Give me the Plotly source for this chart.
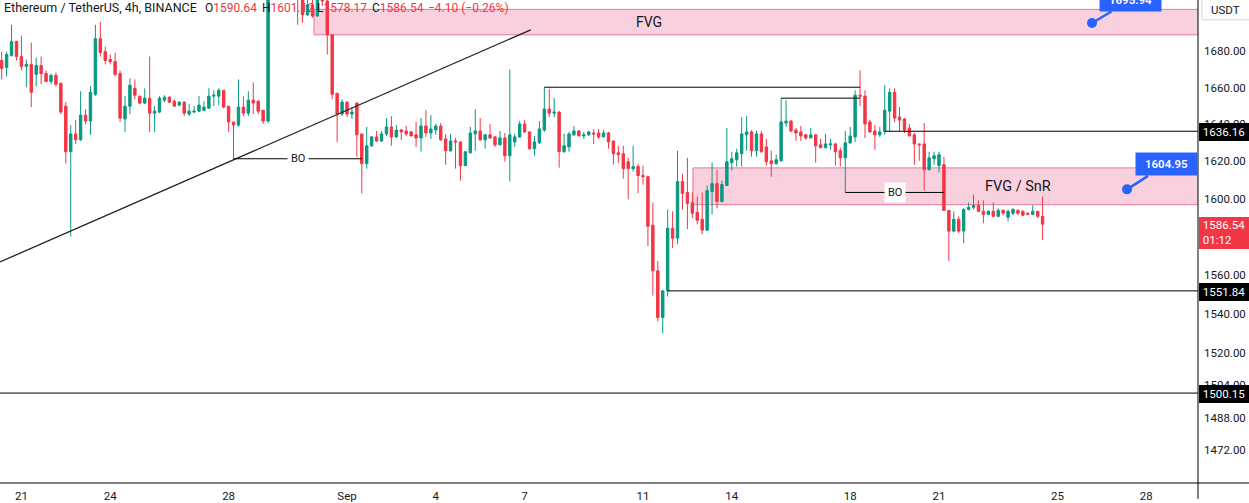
import numpy as np
import pandas as pd
import plotly.graph_objects as go

# ---------------- data (ETH/USDT 4h) ----------------
times = pd.date_range("2023-08-20 08:00", periods=212, freq="4h")

opens = [
    1675.0, 1671.1, 1677.7, 1685.5, 1677.2, 1671.7, 1672.8, 1667.3, 1672.2, 1667.8,
    1663.4, 1666.7, 1662.3, 1649.8, 1625.1, 1634.7, 1631.5, 1644.9, 1641.7, 1656.3,
    1687.1, 1679.9, 1675.5, 1674.4, 1667.8, 1642.8, 1649.8, 1659.6, 1655.3, 1651.5,
    1654.2, 1646.0, 1646.6, 1653.1, 1654.7, 1652.5, 1650.4, 1652.0, 1645.5, 1646.6,
    1647.1, 1647.6, 1648.7, 1655.3, 1655.3, 1658.5, 1649.8, 1641.2, 1639.5, 1649.3,
    1646.0, 1653.1, 1652.5, 1647.6, 1641.7, 1718.0, 1735.0, 1725.0, 1720.0, 1716.0,
    1714.0, 1710.5, 1700.5, 1706.1, 1699.9, 1711.0, 1708.3, 1689.3, 1656.9, 1645.5,
    1652.0, 1645.5, 1651.5, 1634.7, 1618.7, 1628.3, 1633.1, 1630.9, 1634.7, 1638.5,
    1633.1, 1636.8, 1636.3, 1635.8, 1634.2, 1632.5, 1639.0, 1635.2, 1636.8, 1639.0,
    1632.0, 1625.6, 1630.9, 1630.4, 1617.6, 1624.5, 1634.7, 1636.3, 1631.5, 1634.2,
    1633.1, 1628.8, 1632.5, 1622.9, 1630.4, 1633.1, 1640.1, 1635.8, 1626.7, 1629.9,
    1636.8, 1648.2, 1646.0, 1646.6, 1625.1, 1627.7, 1634.2, 1636.3, 1633.6, 1634.2,
    1635.2, 1635.2, 1633.1, 1635.2, 1630.9, 1624.5, 1624.0, 1619.7, 1616.0, 1617.1,
    1612.3, 1611.7, 1586.0, 1562.2, 1538.2, 1551.84, 1584.4, 1579.2, 1609.1, 1603.3,
    1598.0, 1592.8, 1589.1, 1583.4, 1603.8, 1608.0, 1598.5, 1607.0, 1619.2, 1620.8,
    1624.0, 1634.2, 1635.8, 1625.6, 1634.7, 1627.7, 1620.2, 1618.7, 1620.2, 1640.6,
    1641.7, 1636.8, 1635.8, 1634.2, 1632.5, 1634.2, 1628.8, 1627.2, 1628.8, 1629.3,
    1625.6, 1621.8, 1629.9, 1633.1, 1655.8, 1655.3, 1641.2, 1636.3, 1634.2, 1636.16,
    1647.1, 1657.4, 1643.9, 1642.8, 1637.9, 1634.2, 1629.3, 1629.3, 1615.5, 1621.3,
    1617.6, 1618.1, 1593.8, 1582.9, 1589.1, 1582.9, 1594.3, 1595.4, 1596.4, 1593.3,
    1591.7, 1593.3, 1590.7, 1593.8, 1590.2, 1592.3, 1593.8, 1593.3, 1592.3, 1591.7,
    1593.3, 1590.64,
]
highs = [
    1679.9, 1679.9, 1694.9, 1686.0, 1688.8, 1675.5, 1684.9, 1676.6, 1677.2, 1669.5,
    1667.8, 1668.4, 1662.9, 1652.0, 1639.5, 1642.2, 1658.0, 1648.2, 1660.7, 1694.9,
    1696.6, 1682.7, 1678.3, 1679.4, 1669.5, 1655.3, 1665.1, 1664.5, 1655.3, 1659.6,
    1677.2, 1649.8, 1655.3, 1655.8, 1655.3, 1653.6, 1652.5, 1652.5, 1650.9, 1649.8,
    1655.3, 1652.5, 1659.6, 1658.5, 1659.6, 1658.5, 1649.8, 1641.2, 1664.5, 1655.3,
    1658.0, 1662.9, 1653.1, 1647.6, 1728.0, 1745.0, 1742.0, 1730.0, 1728.0, 1722.0,
    1720.0, 1713.0, 1712.0, 1712.0, 1714.0, 1716.0, 1712.0, 1689.3, 1656.9, 1653.6,
    1652.5, 1649.3, 1652.0, 1634.7, 1638.5, 1633.6, 1636.3, 1636.3, 1643.3, 1644.4,
    1639.5, 1637.4, 1639.0, 1636.3, 1641.2, 1643.3, 1647.6, 1644.9, 1640.1, 1640.6,
    1634.7, 1634.7, 1632.5, 1630.4, 1625.1, 1638.5, 1648.2, 1643.3, 1634.7, 1640.1,
    1633.6, 1636.3, 1635.2, 1670.0, 1634.7, 1641.7, 1642.2, 1635.8, 1633.6, 1641.7,
    1660.2, 1659.1, 1654.2, 1647.1, 1634.7, 1635.8, 1639.0, 1636.8, 1635.8, 1636.3,
    1637.4, 1637.4, 1636.8, 1635.8, 1630.9, 1628.3, 1628.3, 1621.8, 1628.3, 1618.7,
    1617.6, 1612.3, 1598.0, 1567.3, 1551.84, 1594.3, 1593.3, 1625.6, 1613.3, 1621.8,
    1603.3, 1601.2, 1603.3, 1607.0, 1619.2, 1615.5, 1609.6, 1637.9, 1625.1, 1626.7,
    1643.9, 1644.4, 1636.8, 1636.3, 1636.3, 1632.0, 1625.6, 1623.5, 1654.2, 1653.1,
    1642.2, 1637.9, 1639.0, 1634.7, 1637.9, 1634.7, 1632.0, 1634.7, 1632.0, 1629.9,
    1627.2, 1636.3, 1638.5, 1658.5, 1669.5, 1658.5, 1642.2, 1639.5, 1638.5, 1661.3,
    1659.6, 1659.6, 1649.3, 1643.3, 1640.1, 1635.2, 1629.3, 1640.6, 1625.1, 1625.1,
    1625.1, 1622.4, 1593.8, 1593.3, 1590.7, 1594.9, 1598.0, 1602.2, 1599.1, 1599.1,
    1593.8, 1598.0, 1594.9, 1594.3, 1594.3, 1594.9, 1594.3, 1593.8, 1592.8, 1596.4,
    1593.3, 1601.12,
]
lows = [
    1664.5, 1666.2, 1677.2, 1675.0, 1669.5, 1660.2, 1649.3, 1660.7, 1661.8, 1662.9,
    1661.8, 1660.7, 1645.5, 1618.7, 1580.2, 1629.3, 1630.9, 1640.1, 1634.2, 1655.3,
    1677.2, 1672.8, 1672.8, 1666.2, 1641.2, 1635.8, 1645.5, 1653.6, 1650.9, 1650.9,
    1635.8, 1635.8, 1646.0, 1652.0, 1651.5, 1649.8, 1649.8, 1644.4, 1644.4, 1646.0,
    1646.6, 1647.1, 1648.2, 1649.8, 1650.4, 1648.7, 1635.8, 1621.3, 1638.5, 1644.4,
    1644.4, 1645.5, 1645.5, 1640.1, 1640.6, 1712.0, 1718.0, 1712.0, 1713.0, 1711.0,
    1694.9, 1696.0, 1699.9, 1698.8, 1699.4, 1705.5, 1678.3, 1653.6, 1630.4, 1644.4,
    1643.9, 1642.8, 1622.4, 1602.8, 1616.0, 1627.7, 1630.4, 1630.4, 1633.6, 1628.3,
    1632.5, 1631.5, 1633.6, 1633.6, 1627.7, 1625.1, 1633.1, 1632.0, 1634.2, 1630.9,
    1618.1, 1625.1, 1616.0, 1609.6, 1617.6, 1624.0, 1625.6, 1630.9, 1626.7, 1632.0,
    1627.7, 1628.3, 1619.7, 1609.1, 1627.7, 1632.5, 1635.2, 1626.1, 1622.9, 1629.3,
    1635.8, 1643.9, 1643.9, 1616.5, 1624.5, 1625.1, 1633.6, 1633.6, 1632.0, 1633.6,
    1629.3, 1632.0, 1633.1, 1626.7, 1618.1, 1619.2, 1610.7, 1599.6, 1614.4, 1602.8,
    1607.5, 1575.1, 1549.4, 1536.2, 1530.1, 1548.9, 1574.0, 1576.1, 1594.3, 1583.9,
    1589.6, 1586.5, 1581.3, 1582.9, 1591.7, 1594.9, 1598.0, 1607.0, 1614.9, 1617.1,
    1617.1, 1625.6, 1622.4, 1622.4, 1624.5, 1617.6, 1611.7, 1618.1, 1619.7, 1638.5,
    1635.8, 1630.9, 1630.9, 1631.5, 1632.5, 1619.2, 1627.2, 1627.2, 1626.1, 1617.6,
    1617.1, 1603.3, 1629.3, 1630.4, 1649.8, 1632.5, 1635.2, 1626.1, 1633.1, 1634.2,
    1635.8, 1641.2, 1636.3, 1635.2, 1633.6, 1618.1, 1620.2, 1604.3, 1614.9, 1618.1,
    1613.9, 1593.8, 1567.3, 1582.3, 1581.8, 1576.6, 1593.8, 1594.3, 1592.8, 1587.0,
    1591.2, 1590.2, 1590.2, 1591.2, 1588.0, 1591.2, 1591.2, 1590.7, 1591.2, 1591.2,
    1589.6, 1578.17,
]
closes = [
    1670.6, 1678.3, 1685.5, 1677.2, 1671.7, 1672.8, 1657.4, 1672.2, 1667.8, 1663.4,
    1666.7, 1661.8, 1646.6, 1625.1, 1634.7, 1631.5, 1644.9, 1641.7, 1657.4, 1687.1,
    1679.4, 1675.0, 1674.4, 1667.3, 1643.3, 1649.8, 1661.3, 1655.8, 1651.5, 1654.2,
    1646.0, 1647.1, 1654.2, 1654.7, 1652.0, 1649.8, 1652.0, 1646.0, 1647.1, 1647.1,
    1650.4, 1649.3, 1655.3, 1655.8, 1658.5, 1649.3, 1641.2, 1639.5, 1649.3, 1646.0,
    1653.1, 1651.5, 1647.1, 1641.7, 1718.0, 1735.0, 1725.0, 1720.0, 1716.0, 1714.0,
    1710.5, 1700.5, 1706.1, 1699.9, 1711.0, 1708.3, 1689.3, 1656.3, 1645.5, 1652.0,
    1645.5, 1646.6, 1634.2, 1618.7, 1628.3, 1633.1, 1630.9, 1634.7, 1638.5, 1633.1,
    1636.8, 1635.8, 1634.7, 1633.6, 1632.5, 1639.0, 1635.2, 1637.4, 1639.0, 1631.5,
    1625.6, 1630.9, 1630.4, 1617.6, 1625.1, 1635.2, 1636.3, 1631.5, 1634.2, 1632.5,
    1628.8, 1632.5, 1622.9, 1634.2, 1633.1, 1640.1, 1635.8, 1626.7, 1630.4, 1637.4,
    1648.2, 1646.0, 1646.6, 1625.1, 1628.3, 1634.7, 1636.3, 1633.6, 1634.2, 1635.8,
    1634.7, 1633.1, 1635.2, 1630.4, 1624.0, 1623.5, 1616.0, 1616.0, 1617.1, 1612.3,
    1611.7, 1585.5, 1562.2, 1538.2, 1551.84, 1584.4, 1579.2, 1609.1, 1602.8, 1597.5,
    1592.3, 1588.6, 1583.4, 1604.3, 1608.0, 1598.5, 1607.5, 1619.7, 1621.3, 1624.5,
    1634.7, 1635.8, 1625.6, 1634.7, 1625.1, 1619.7, 1618.7, 1620.8, 1641.2, 1641.7,
    1636.3, 1635.2, 1633.6, 1632.5, 1634.2, 1628.3, 1627.2, 1629.3, 1629.3, 1625.1,
    1621.8, 1629.9, 1633.6, 1655.8, 1655.3, 1640.1, 1635.8, 1634.2, 1635.8, 1647.6,
    1657.4, 1643.3, 1642.2, 1636.8, 1633.6, 1629.3, 1628.8, 1615.5, 1621.8, 1622.9,
    1623.5, 1593.8, 1582.9, 1589.1, 1582.9, 1594.3, 1595.4, 1596.4, 1593.3, 1591.7,
    1593.3, 1590.7, 1593.8, 1592.3, 1593.3, 1594.3, 1592.3, 1591.2, 1591.7, 1593.3,
    1590.64, 1586.54,
]

# axis ticks (1580 is hidden behind the current-price label in the original, so it is omitted)
y_ticks = [1472, 1488, 1504, 1520, 1540, 1560, 1600, 1620, 1640, 1660, 1680]
x_tick_dates = ["2023-08-21", "2023-08-24", "2023-08-28", "2023-09-01", "2023-09-04", "2023-09-07",
                "2023-09-11", "2023-09-14", "2023-09-18", "2023-09-21", "2023-09-25", "2023-09-28"]
x_tick_text = ["21", "24", "28", "Sep", "4", "7", "11", "14", "18", "21", "25", "28"]

# drawings: horizontal levels (start candle, end candle or None=extend, price)
level_lines = [(110, 174, highs[110]), (158, 174, highs[158]),
               (179, None, 1636.16), (135, None, 1551.84), (None, None, 1500.15)]
bo_lines = [(47, 73, lows[47]), (171, 191, lows[171])]
trend_pts = [("2023-08-20 06:39", 1566.8), ("2023-09-07 05:00", 1692.1)]
fvg_zones = [  # (left time, top, bottom, label, label time, font size)
    ("2023-08-30 21:15", 1703.6, 1689.3, "FVG", "2023-09-11 05:00", 14),
    ("2023-09-12 16:30", 1616.4, 1596.8, "FVG / SnR", "2023-09-23 16:00", 14.5),
]
price_notes = [("2023-09-27 08:26", 1604.95, -25), ("2023-09-26 04:03", 1695.94, -32)]
axis_marks = [1636.16, 1551.84, 1500.15]

x_range = [pd.Timestamp("2023-08-20 06:39"), pd.Timestamp("2023-09-29 18:00")]
y_range = [1456.1, 1708.9]

GREEN, RED, BLUE, INK = "#089981", "#F23645", "#2962FF", "#131722"
FONT = "Roboto"
W, H = 1249, 503
L_M, R_M, T_M, B_M = 0, 51, 0, 16
PW, PH = W - L_M - R_M, H - T_M - B_M
LO, HI = np.log10(y_range[0]), np.log10(y_range[1])


def ypaper(p):
    return (np.log10(p) - LO) / (HI - LO)


fig = go.Figure()
fig.add_trace(go.Candlestick(
    x=times, open=opens, high=highs, low=lows, close=closes,
    increasing=dict(line=dict(color=GREEN, width=1), fillcolor=GREEN),
    decreasing=dict(line=dict(color=RED, width=1), fillcolor=RED),
    whiskerwidth=0, hoverinfo="skip", showlegend=False))

shapes = []
annos = []
ext_right = x_range[1] + pd.Timedelta(days=3)

# FVG zones
for left, top, bot, label, ltime, fs in fvg_zones:
    shapes.append(dict(type="rect", xref="x", yref="y", x0=left, x1=ext_right, y0=bot, y1=top,
                       fillcolor="#f9d1de", line=dict(color="#e07a9d", width=1), layer="below"))
    annos.append(dict(x=ltime, y=(np.log10(top) + np.log10(bot)) / 2, xref="x", yref="y",
                      text=label, showarrow=False, font=dict(size=fs, color=INK, family=FONT)))

# trend line
shapes.append(dict(type="line", xref="x", yref="y", x0=trend_pts[0][0], y0=trend_pts[0][1],
                   x1=trend_pts[1][0], y1=trend_pts[1][1], line=dict(color="#222222", width=1.3)))

# horizontal levels
for s, e, p in level_lines:
    x0 = times[s] if s is not None else x_range[0]
    x1 = times[e] if e is not None else ext_right
    shapes.append(dict(type="line", xref="x", yref="y", x0=x0, x1=x1, y0=p, y1=p,
                       line=dict(color="black", width=1)))

# BO lines
for s, e, p in bo_lines:
    shapes.append(dict(type="line", xref="x", yref="y", x0=times[s], x1=times[e], y0=p, y1=p,
                       line=dict(color="black", width=1)))
    mid = times[s] + (times[e] - times[s]) / 2
    annos.append(dict(x=mid, y=np.log10(p), xref="x", yref="y", text="BO", showarrow=False,
                      bgcolor="white", borderpad=3, font=dict(size=11, color=INK, family=FONT)))

# price notes (blue callouts)
for t, p, ay in price_notes:
    annos.append(dict(x=t, y=np.log10(p), xref="x", yref="y", text=f"{p:.2f}",
                      showarrow=True, arrowhead=6, arrowsize=1, arrowwidth=2.5, arrowcolor=BLUE,
                      ax=39, ay=ay, bgcolor=BLUE, borderpad=3, width=55, height=16,
                      font=dict(size=11.5, color="white", family=FONT, weight=600)))

# axis frame lines
shapes.append(dict(type="line", xref="paper", yref="paper", x0=0, x1=W / PW, y0=0, y1=0,
                   line=dict(color="black", width=1), layer="above"))
shapes.append(dict(type="line", xref="paper", yref="paper", x0=1, x1=1, y0=-B_M / PH, y1=1,
                   line=dict(color="black", width=1), layer="above"))

# price scale labels (black boxes drawn as annotations so they sit above tick labels)
for p in axis_marks:
    annos.append(dict(x=1, y=ypaper(p), xref="paper", yref="paper", xanchor="left", yanchor="middle",
                      xshift=1, yshift=-1.25, width=48, height=15.5, borderpad=1, borderwidth=0,
                      bgcolor="black", align="left",
                      text=f"&nbsp;{p:.2f}", showarrow=False,
                      font=dict(size=11.5, color="white", family=FONT)))

# current price label (red)
last = closes[-1]
annos.append(dict(x=1, y=ypaper(last), xref="paper", yref="paper", xanchor="left", yanchor="middle",
                  xshift=1, yshift=-8.5, width=48, height=29.5, borderpad=1, borderwidth=0,
                  bgcolor=RED, align="left", text=f"&nbsp;{last:.2f}<br>&nbsp;01:12", showarrow=False,
                  font=dict(size=11.5, color="white", family=FONT)))

# USDT box
shapes.append(dict(type="rect", xref="paper", yref="paper", x0=1202 / PW, x1=1262 / PW,
                   y0=1 - 20 / PH, y1=1.02, fillcolor="white", line=dict(color="#d1d4dc", width=1),
                   layer="above"))
annos.append(dict(x=1225 / PW, y=1 - 10 / PH, xref="paper", yref="paper", text="USDT",
                  xanchor="center", yanchor="middle",
                  showarrow=False, font=dict(size=11.5, color=INK, family=FONT)))

# header legend
chg = closes[-1] - closes[-2]
pct = chg / closes[-2] * 100
r = lambda s: f"<span style='color:{RED}'>{s}</span>"
header = [
    (3, "Ethereum / TetherUS, 4h, BINANCE", 12.5),
    (204, "O" + r(f"{opens[-1]:.2f}"), 12),
    (261, "H" + r(f"{highs[-1]:.2f}"), 12),
    (316, "L" + r(f"{lows[-1]:.2f}"), 12),
    (371, "C" + r(f"{closes[-1]:.2f}"), 12),
    (427, r(f"{chg:+.2f}".replace("-", "\u2212") + f" ({pct:+.2f}%)".replace("-", "\u2212")), 12),
]
for xp, txt, fs in header:
    annos.append(dict(x=xp / PW, y=1 - 8 / PH, xref="paper", yref="paper", xanchor="left",
                      yanchor="middle", text=txt, showarrow=False, borderpad=0,
                      font=dict(size=fs, color=INK, family=FONT)))

fig.update_layout(
    width=W, height=H, margin=dict(l=L_M, r=R_M, t=T_M, b=B_M),
    paper_bgcolor="white", plot_bgcolor="white", showlegend=False,
    font=dict(family=FONT, color=INK, size=12),
    shapes=shapes, annotations=annos,
)
fig.update_xaxes(type="date", range=x_range, tickvals=pd.to_datetime(x_tick_dates), ticktext=x_tick_text,
                 showgrid=False, zeroline=False, showline=False, ticks="", rangeslider_visible=False,
                 tickfont=dict(size=11.5, color=INK, family=FONT), ticklabelstandoff=4)
fig.update_yaxes(type="log", range=[LO, HI], side="right",
                 tickvals=y_ticks, ticktext=[f"{v:.2f}" for v in y_ticks],
                 showgrid=False, zeroline=False, showline=False, ticks="",
                 tickfont=dict(size=11.5, color=INK, family=FONT), ticklabelstandoff=5)

fig.write_html("out.html")
